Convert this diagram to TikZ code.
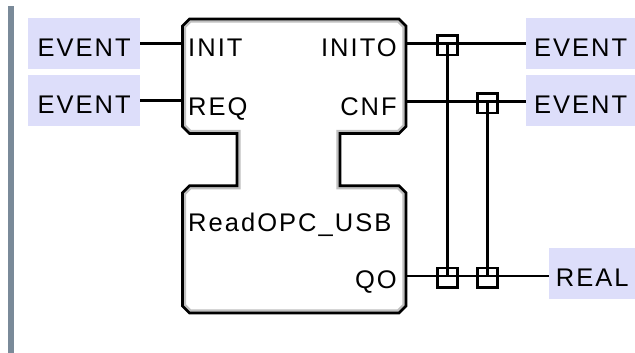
\documentclass[tikz,border=0pt]{standalone}
\usepackage{fontspec}
\setmainfont{Liberation Sans}[LetterSpace=8]
\definecolor{boxfill}{RGB}{221,222,250}
\definecolor{bargray}{RGB}{122,138,153}
\definecolor{fbgray}{RGB}{192,192,192}
\begin{document}
\begin{tikzpicture}[x=1pt,y=-1pt,
  font=\fontsize{25.5}{30}\selectfont,
  wire/.style={line width=2.7pt, black},
  portbox/.style={fill=boxfill, draw=none, minimum height=51pt, inner sep=0pt,
    text height=26pt, text depth=0pt, anchor=north west},
  pinlabel/.style={inner sep=0pt},
  junc/.style={draw, line width=2.7pt, minimum size=19.5pt, inner sep=0pt}]
\useasboundingbox (0,0) rectangle (635,353);
\fill[white] (0,0) rectangle (635,353);
% left bar
\fill[bargray] (8,6) rectangle (13.5,353);
% port boxes
\node[portbox, minimum width=112pt] (ev1) at (28,18) {EVENT};
\node[portbox, minimum width=112pt] (ev2) at (28,75) {EVENT};
\node[portbox, minimum width=109pt] (ev3) at (526,18) {EVENT};
\node[portbox, minimum width=109pt] (ev4) at (526,75) {EVENT};
\node[portbox, minimum width=86pt] (real) at (549,248) {REAL};
% pins
\coordinate (pINIT) at (182.5,43.5);
\coordinate (pREQ) at (182.5,100.5);
\coordinate (pINITO) at (406,43.5);
\coordinate (pCNF) at (406,101.5);
\coordinate (pQO) at (406,276);
% crossings
\coordinate (c1) at (447.5,43.5);
\coordinate (c2) at (487.5,101.5);
\coordinate (c3) at (447.5,276);
\coordinate (c4) at (487.5,276);
% wires
\draw[wire] (ev1.east |- pINIT) -- (pINIT);
\draw[wire] (ev2.east |- pREQ) -- (pREQ);
\draw[wire] (pINITO) -- (pINITO -| ev3.west);
\draw[wire] (pCNF) -- (pCNF -| ev4.west);
\draw[wire] (pQO) -- (pQO -| real.west);
\draw[wire] (c1) -- (c3);
\draw[wire] (c2) -- (c4);
% function block shading
\begin{scope}
\clip (182.5,26) -- (189.5,19) -- (399,19) -- (406,26) -- (406,126.5) -- (399,133.5) -- (340,133.5) -- (340,185.7) -- (399,185.7) -- (406,192.7) -- (406,306) -- (399,313) -- (189.5,313) -- (182.5,306) -- (182.5,192.7) -- (189.5,185.7) -- (237,185.7) -- (237,133.5) -- (189.5,133.5) -- (182.5,126.5) -- cycle;
\draw[draw=fbgray, line width=7.2pt] (182.5,26) -- (189.5,19) -- (399,19) -- (406,26) -- (406,126.5) -- (399,133.5) -- (340,133.5) -- (340,185.7) -- (399,185.7) -- (406,192.7) -- (406,306) -- (399,313) -- (189.5,313) -- (182.5,306) -- (182.5,192.7) -- (189.5,185.7) -- (237,185.7) -- (237,133.5) -- (189.5,133.5) -- (182.5,126.5) -- cycle;
\end{scope}
% function block outline
\draw[black, line width=2.7pt, line join=miter] (182.5,26) -- (189.5,19) -- (399,19) -- (406,26) -- (406,126.5) -- (399,133.5) -- (340,133.5) -- (340,185.7) -- (399,185.7) -- (406,192.7) -- (406,306) -- (399,313) -- (189.5,313) -- (182.5,306) -- (182.5,192.7) -- (189.5,185.7) -- (237,185.7) -- (237,133.5) -- (189.5,133.5) -- (182.5,126.5) -- cycle;
% pin labels
\node[pinlabel, anchor=base west] (tINIT) at (188,57) {INIT};
\node[pinlabel, anchor=base west] (tREQ) at (188,115) {REQ};
\node[pinlabel, anchor=base east] (tINITO) at (397,57) {INITO};
\node[pinlabel, anchor=base east] (tCNF) at (397,115) {CNF};
\node[pinlabel, anchor=base west] (tName) at (188,231) {ReadOPC\_USB};
\node[pinlabel, anchor=base east] (tQO) at (397,288) {QO};
% junctions
\node[junc] (j1) at ([yshift=-1.75pt]c1) {};
\node[junc] (j2) at ([yshift=-1.75pt]c2) {};
\node[junc] (j3) at ([yshift=-1.75pt]c3) {};
\node[junc] (j4) at ([yshift=-1.75pt]c4) {};
\end{tikzpicture}
\end{document}
